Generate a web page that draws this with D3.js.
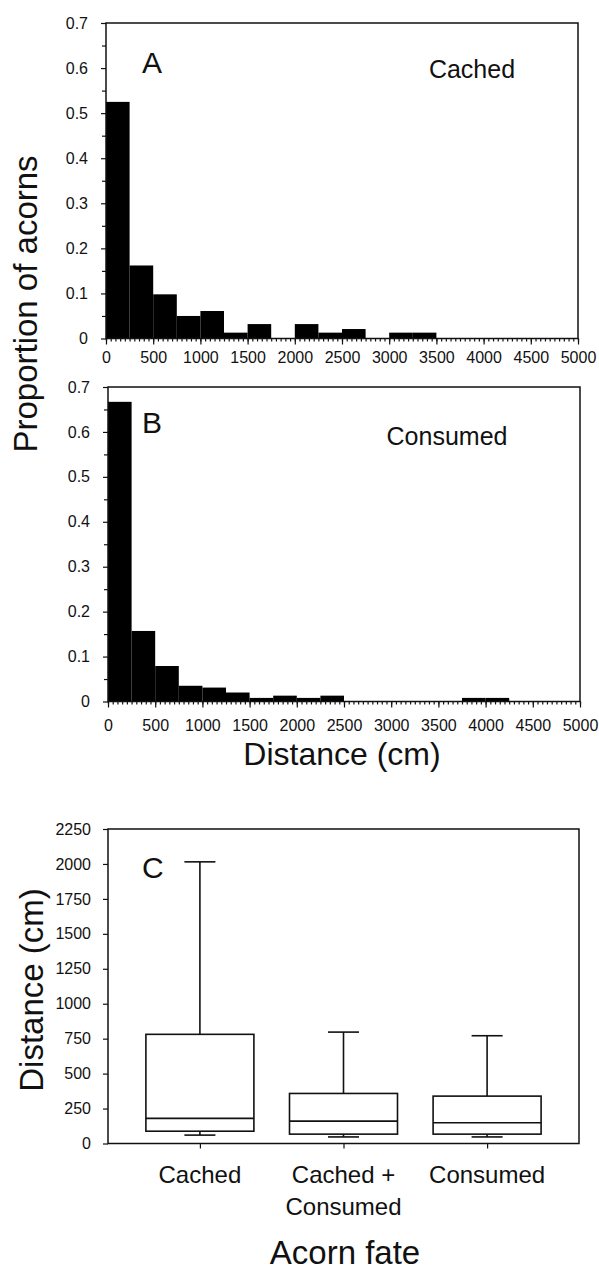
<!DOCTYPE html>
<html lang="en">
<head>
    <meta charset="UTF-8">
    <title>Acorn dispersal distances</title>
    <script src="https://d3js.org/d3.v7.min.js"></script>
    <style>
        body { margin: 0; background: #fff; }
        text { font-family: "Liberation Sans", Arial, sans-serif; fill: #111; }
        .frame { fill: none; stroke: #111; stroke-width: 1.5px; }
        .axis line { stroke: #111; stroke-width: 1.2px; }
        .axis text { font-family: "Liberation Sans", Arial, sans-serif; fill: #111; }
        .box { fill: none; stroke: #111; stroke-width: 1.6px; }
    </style>
</head>
<body>
    <svg width="599" height="1270"></svg>
    <script>
        // histogram bins (cm, start of each 250 cm bin)
        const binStarts = [0, 250, 500, 750, 1000, 1250, 1500, 1750, 2000, 2250,
                           2500, 2750, 3000, 3250, 3500, 3750, 4000, 4250, 4500, 4750];
        const binWidth = 250;
        const cachedProp = [0.525, 0.162, 0.098, 0.050, 0.061, 0.013, 0.032, 0, 0.032, 0.013,
                            0.021, 0, 0.013, 0.013, 0, 0, 0, 0, 0, 0];
        const consumedProp = [0.667, 0.157, 0.079, 0.035, 0.031, 0.020, 0.008, 0.013, 0.008, 0.013,
                              0, 0, 0, 0, 0, 0.008, 0.008, 0, 0, 0];
        const propTicks = [0, 0.1, 0.2, 0.3, 0.4, 0.5, 0.6, 0.7];
        const distTicks = [0, 500, 1000, 1500, 2000, 2500, 3000, 3500, 4000, 4500, 5000];

        // box plot (panel C)
        const fates = ["Cached", "Cached + Consumed", "Consumed"];
        const fateLines = [["Cached"], ["Cached +", "Consumed"], ["Consumed"]];
        const whiskerLow = [60, 47, 47];
        const q1 = [88, 67, 67];
        const median = [180, 160, 148];
        const q3 = [781, 358, 339];
        const whiskerHigh = [2015, 797, 771];
        const boxTicks = [0, 250, 500, 750, 1000, 1250, 1500, 1750, 2000, 2250];

        const svg = d3.select("svg");

        function histPanel(opts) {
            const x = d3.scaleLinear().domain([0, 5000]).range([opts.left, opts.right]);
            const y = d3.scaleLinear().domain([0, 0.7]).range([opts.bottom, opts.top]);
            const g = svg.append("g");

            g.selectAll("rect.bar")
                .data(binStarts.map((s, i) => ({ s, v: opts.values[i] })).filter(d => d.v > 0))
                .enter().append("rect")
                .attr("class", "bar")
                .attr("x", d => x(d.s))
                .attr("width", d => x(d.s + binWidth) - x(d.s))
                .attr("y", d => y(d.v))
                .attr("height", d => y(0) - y(d.v))
                .attr("fill", "#000");

            // minor ticks
            g.append("g").attr("class", "axis")
                .attr("transform", `translate(${opts.left},0)`)
                .call(d3.axisLeft(y).tickValues(d3.range(0.05, 0.7, 0.1)).tickSize(4).tickFormat(""))
                .call(a => a.select(".domain").remove());
            g.append("g").attr("class", "axis")
                .attr("transform", `translate(0,${opts.bottom})`)
                .call(d3.axisBottom(x).tickValues(d3.range(0, 5001, 50)).tickSize(3).tickFormat(""))
                .call(a => a.select(".domain").remove());

            // major ticks
            g.append("g").attr("class", "axis")
                .attr("transform", `translate(${opts.left},0)`)
                .call(d3.axisLeft(y).tickValues(propTicks).tickSize(5).tickPadding(13)
                    .tickFormat(d => d === 0 ? "0" : d3.format(".1f")(d)))
                .call(a => a.select(".domain").remove())
                .call(a => a.selectAll("text").attr("font-size", 16));
            g.append("g").attr("class", "axis")
                .attr("transform", `translate(0,${opts.bottom})`)
                .call(d3.axisBottom(x).tickValues(distTicks).tickSize(6).tickPadding(opts.xPad)
                    .tickFormat(d3.format("d")))
                .call(a => a.select(".domain").remove())
                .call(a => a.selectAll("text").attr("font-size", 16));

            g.append("rect").attr("class", "frame")
                .attr("x", opts.left).attr("y", opts.top)
                .attr("width", opts.right - opts.left).attr("height", opts.bottom - opts.top);

            g.append("text").attr("x", 142).attr("y", opts.letterY)
                .attr("font-size", 30).text(opts.letter);
            g.append("text").attr("x", opts.noteX).attr("y", opts.noteY)
                .attr("text-anchor", "middle").attr("font-size", 25).text(opts.note);
        }

        histPanel({ left: 106, right: 578, top: 23, bottom: 338.5, values: cachedProp,
                    xPad: 7, letter: "A", letterY: 73, note: "Cached", noteX: 472, noteY: 78 });
        histPanel({ left: 108, right: 580, top: 387, bottom: 701.5, values: consumedProp,
                    xPad: 12, letter: "B", letterY: 433, note: "Consumed", noteX: 447, noteY: 445 });

        svg.append("text")
            .attr("transform", "translate(37,304) rotate(-90)")
            .attr("text-anchor", "middle").attr("font-size", 33)
            .text("Proportion of acorns");
        svg.append("text")
            .attr("x", 342).attr("y", 765)
            .attr("text-anchor", "middle").attr("font-size", 32)
            .text("Distance (cm)");

        // panel C
        const cL = 108, cR = 579, cT = 829, cB = 1143.5;
        const xc = d3.scalePoint().domain(fates).range([cL, cR]).padding(0.64);
        const yc = d3.scaleLinear().domain([0, 2250]).range([cB, cT]);
        const gc = svg.append("g");
        const boxW = 108, capW = 31;

        gc.append("g").attr("class", "axis")
            .attr("transform", `translate(${cL},0)`)
            .call(d3.axisLeft(yc).tickValues(boxTicks).tickSize(5).tickPadding(12)
                .tickFormat(d3.format("d")))
            .call(a => a.select(".domain").remove())
            .call(a => a.selectAll("text").attr("font-size", 16));
        gc.append("g").attr("class", "axis")
            .attr("transform", `translate(0,${cB})`)
            .call(d3.axisBottom(xc).tickSize(5).tickFormat(""))
            .call(a => a.select(".domain").remove());

        const boxes = gc.selectAll("g.fate")
            .data(fates.map((f, i) => ({ f, i })))
            .enter().append("g").attr("class", "fate");

        boxes.append("rect").attr("class", "box")
            .attr("x", d => xc(d.f) - boxW / 2).attr("width", boxW)
            .attr("y", d => yc(q3[d.i])).attr("height", d => yc(q1[d.i]) - yc(q3[d.i]));
        boxes.append("line").attr("class", "box")
            .attr("x1", d => xc(d.f) - boxW / 2).attr("x2", d => xc(d.f) + boxW / 2)
            .attr("y1", d => yc(median[d.i])).attr("y2", d => yc(median[d.i]));
        boxes.append("line").attr("class", "box")
            .attr("x1", d => xc(d.f)).attr("x2", d => xc(d.f))
            .attr("y1", d => yc(q3[d.i])).attr("y2", d => yc(whiskerHigh[d.i]));
        boxes.append("line").attr("class", "box")
            .attr("x1", d => xc(d.f)).attr("x2", d => xc(d.f))
            .attr("y1", d => yc(q1[d.i])).attr("y2", d => yc(whiskerLow[d.i]));
        boxes.append("line").attr("class", "box")
            .attr("x1", d => xc(d.f) - capW / 2).attr("x2", d => xc(d.f) + capW / 2)
            .attr("y1", d => yc(whiskerHigh[d.i])).attr("y2", d => yc(whiskerHigh[d.i]));
        boxes.append("line").attr("class", "box")
            .attr("x1", d => xc(d.f) - capW / 2).attr("x2", d => xc(d.f) + capW / 2)
            .attr("y1", d => yc(whiskerLow[d.i])).attr("y2", d => yc(whiskerLow[d.i]));

        boxes.append("text")
            .attr("text-anchor", "middle").attr("font-size", 24)
            .selectAll("tspan")
            .data(d => fateLines[d.i].map(t => ({ t, x: xc(d.f) })))
            .enter().append("tspan")
            .attr("x", d => d.x)
            .attr("y", (d, j) => 1183 + j * 32)
            .text(d => d.t);

        gc.append("rect").attr("class", "frame")
            .attr("x", cL).attr("y", cT).attr("width", cR - cL).attr("height", cB - cT);
        gc.append("text").attr("x", 142).attr("y", 878).attr("font-size", 30).text("C");

        svg.append("text")
            .attr("transform", "translate(43,990) rotate(-90)")
            .attr("text-anchor", "middle").attr("font-size", 33)
            .text("Distance (cm)");
        svg.append("text")
            .attr("x", 345).attr("y", 1264)
            .attr("text-anchor", "middle").attr("font-size", 33)
            .text("Acorn fate");
    </script>
</body>
</html>
